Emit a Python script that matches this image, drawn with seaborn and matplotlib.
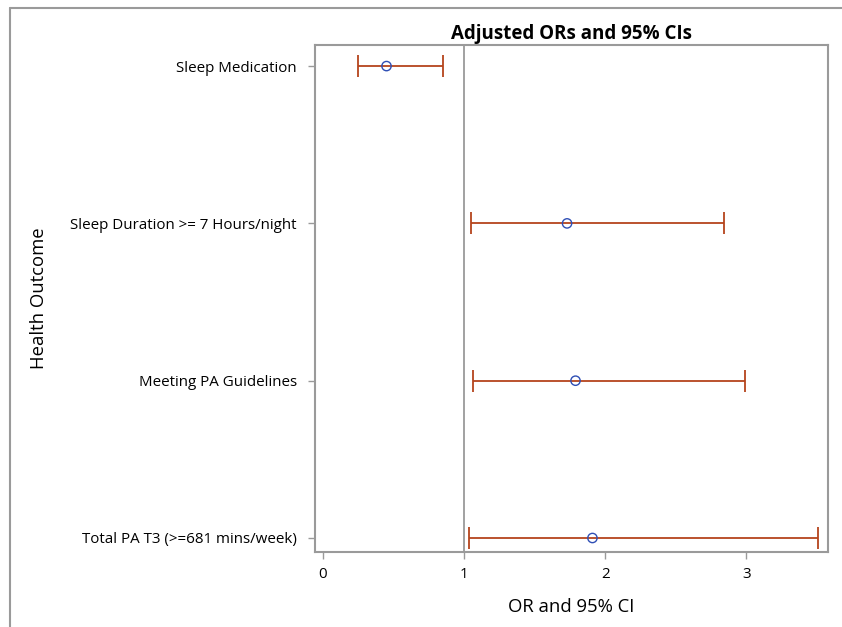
import pandas as pd
import numpy as np
import matplotlib.pyplot as plt
from matplotlib.lines import Line2D
import seaborn as sns

# --- Données ---
outcomes = ["Sleep Medication",
            "Sleep Duration >= 7 Hours/night",
            "Meeting PA Guidelines",
            "Total PA T3 (>=681 mins/week)"]
odds_ratio = [0.45, 1.73, 1.79, 1.91]
ci_lower   = [0.25, 1.05, 1.06, 1.035]
ci_upper   = [0.85, 2.84, 2.99, 3.51]

df = pd.DataFrame({"outcome": outcomes, "OR": odds_ratio,
                   "low": ci_lower, "high": ci_upper})
df["pos"] = np.arange(len(df))

sns.set_style("white")
plt.rcParams["font.family"] = ["Open Sans", "DejaVu Sans"]
plt.rcParams["text.color"] = "black"
plt.rcParams["axes.labelcolor"] = "black"

gris = "#9a9a9a"
rouge = "#b5441c"
bleu = "#2f4fb5"

fig = plt.figure(figsize=(8.42, 6.27), dpi=100)
ax = fig.add_axes([315 / 842, 1 - 552 / 627, 513 / 842, 507 / 627])

# ligne de référence OR = 1
ax.axvline(1, color=gris, lw=1.3, zorder=1)

# intervalles de confiance
ax.errorbar(df["OR"], df["pos"],
            xerr=[df["OR"] - df["low"], df["high"] - df["OR"]],
            fmt="none", ecolor=rouge, elinewidth=1.3, capsize=8,
            capthick=1.3, zorder=2)

# estimations ponctuelles
sns.scatterplot(data=df, x="OR", y="pos", ax=ax, marker="o", s=45,
                facecolor="none", edgecolor=bleu, linewidth=1.0, zorder=3)

ax.set_xlim(-0.057, 3.58)
ax.set_ylim(3.089, -0.134)
ax.set_xticks([0, 1, 2, 3])
ax.set_yticks(df["pos"])
ax.set_yticklabels(df["outcome"])

ax.set_title("Adjusted ORs and 95% CIs", fontsize=13.5, fontweight="bold", pad=4)
ax.set_xlabel("OR and 95% CI", fontsize=13.3, labelpad=11)
ax.set_ylabel("Health Outcome", fontsize=13.3)
ax.yaxis.set_label_coords(-0.52, 0.5)

for s in ax.spines.values():
    s.set_color(gris)
    s.set_linewidth(1.5)
ax.tick_params(axis="both", which="both", direction="out", length=5,
               width=1, color=gris, labelcolor="black", labelsize=10.9,
               bottom=True, left=True)
ax.tick_params(axis="x", pad=6)
ax.tick_params(axis="y", pad=8)

# cadre extérieur
fig.add_artist(Line2D([10 / 842, 1.0], [1 - 8 / 627, 1 - 8 / 627],
                      color=gris, lw=1.5))
fig.add_artist(Line2D([10 / 842, 10 / 842], [0.0, 1 - 8 / 627],
                      color=gris, lw=1.5))

fig.savefig("out.png", dpi=100)
